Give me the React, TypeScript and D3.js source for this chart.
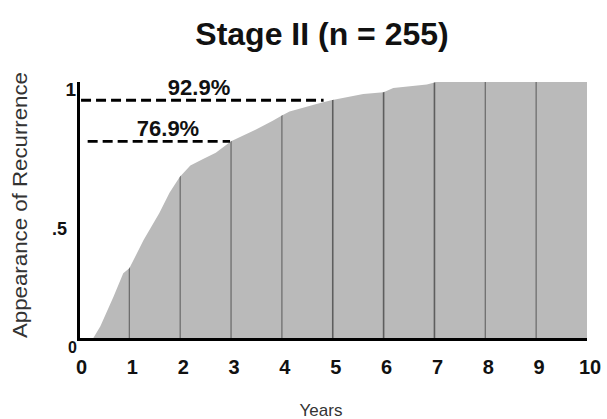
import React from "react";
import * as d3 from "d3";

const years = [0, 0.28, 0.43, 0.69, 0.88, 1.0, 1.28, 1.59, 1.79, 1.99, 2.2, 2.45, 2.7, 3.0, 3.5, 3.82, 4.0, 4.15, 4.68, 4.97, 5.6, 6.0, 6.19, 6.85, 7.04, 10];
const recurrence = [0, 0, 0.05, 0.165, 0.256, 0.275, 0.385, 0.49, 0.569, 0.63, 0.675, 0.7, 0.725, 0.769, 0.816, 0.849, 0.87, 0.885, 0.914, 0.929, 0.953, 0.96, 0.977, 0.99, 1.0, 1.0];
const xTicks = [0, 1, 2, 3, 4, 5, 6, 7, 8, 9, 10];
const gridYears = [1, 2, 3, 4, 5, 6, 7, 8, 9];
const yTickLabels = ["0", ".5", "1"];
const refLines = [
  { label: "92.9%", value: 0.929, fromYear: 0.05, toYear: 4.82, labelYear: 2.37 },
  { label: "76.9%", value: 0.769, fromYear: 0.18, toYear: 2.98, labelYear: 1.76 },
];
const title = "Stage II (n = 255)";
const xTitle = "Years";
const yTitle = "Appearance of Recurrence";

export default function App() {
  const W = 607, H = 419;
  const x = d3.scaleLinear().domain([0, 10]).range([78.5, 587]);
  const y = d3.scaleLinear().domain([0, 1]).range([339, 82]);
  const data = years.map((t, i) => ({ t, v: recurrence[i] }));
  const area = d3.area<{ t: number; v: number }>()
    .x((d) => x(d.t))
    .y0(y(0))
    .y1((d) => y(d.v))
    .curve(d3.curveLinear);
  const areaPath = area(data) || "";
  const font = "'Liberation Sans', Arial, Helvetica, sans-serif";
  const yLabelPos = [
    { txt: yTickLabels[0], x: 77, y: 353, size: 16 },
    { txt: yTickLabels[1], x: 67, y: 235, size: 18 },
    { txt: yTickLabels[2], x: 76, y: 96, size: 19 },
  ];
  return (
    <svg width={W} height={H} style={{ position: "absolute", left: 0, top: 0, background: "#fff" }} fontFamily={font}>
      <defs>
        <clipPath id="areaClip">
          <path d={areaPath} />
        </clipPath>
      </defs>
      <rect width={W} height={H} fill="#fff" />
      <text x={322} y={45} textAnchor="middle" fontSize={32} fontWeight="bold" fill="#111">{title}</text>
      <path d={areaPath} fill="#bababa" />
      <g clipPath="url(#areaClip)">
        {gridYears.map((g) => (
          <line key={g} x1={x(g)} x2={x(g)} y1={y(0)} y2={y(1) - 2} stroke={g >= 5 && g <= 7 ? "#5e5e5e" : "#6e6e6e"} strokeWidth={g >= 5 && g <= 7 ? 1.6 : 1.3} />
        ))}
      </g>
      {refLines.map((r) => (
        <g key={r.label}>
          <line x1={x(r.fromYear)} x2={x(r.toYear)} y1={y(r.value)} y2={y(r.value)} stroke="#000" strokeWidth={2.8} strokeDasharray="10,5" />
          <text x={x(r.labelYear)} y={y(r.value) - 5} textAnchor="middle" fontSize={22} fontWeight="bold" fill="#111">{r.label}</text>
        </g>
      ))}
      <line x1={x(0)} x2={x(0)} y1={y(1)} y2={y(0) + 1.5} stroke="#000" strokeWidth={3} />
      <line x1={x(0) - 1.5} x2={x(10)} y1={y(0) + 0.5} y2={y(0) + 0.5} stroke="#000" strokeWidth={3} />
      {xTicks.map((t) => (
        <text key={t} x={x(t) + 3} y={374} textAnchor="middle" fontSize={20} fontWeight="bold" fill="#111">{t}</text>
      ))}
      {yLabelPos.map((l) => (
        <text key={l.txt} x={l.x} y={l.y} textAnchor="end" fontSize={l.size} fontWeight="bold" fill="#111">{l.txt}</text>
      ))}
      <text transform="translate(27,205) rotate(-90)" textAnchor="middle" fontSize={20} textLength={266} lengthAdjust="spacingAndGlyphs" fill="#333">{yTitle}</text>
      <text x={321} y={416} textAnchor="middle" fontSize={17} fill="#333">{xTitle}</text>
    </svg>
  );
}
